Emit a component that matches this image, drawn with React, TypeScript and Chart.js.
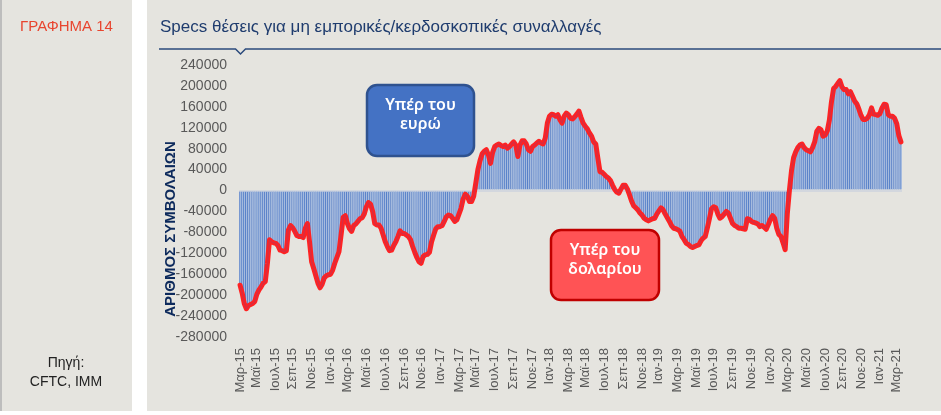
import React, { useEffect, useRef } from 'react';
import { Chart, registerables } from 'chart.js';

Chart.register(...registerables);

// Weekly net speculative EUR positions (thousands of contracts)
const START_DATE = '2015-03-10';
const NET_2015 = [-181, -196, -216, -226, -220, -218, -216, -212, -198, -190, -184, -177, -174, -139, -94, -98, -100, -101, -105, -114, -115, -117, -115, -75, -67, -71, -78, -86, -88, -88, -90, -72, -63, -98, -136, -149, -163, -177, -186, -179, -167, -163, -161];
const NET_2016 = [-160, -152, -139, -128, -117, -85, -51, -48, -63, -73, -78, -67, -64, -59, -54, -52, -45, -31, -23, -26, -40, -63, -66, -66, -72, -85, -98, -107, -115, -114, -105, -98, -88, -77, -82, -82, -85, -88, -94, -107, -118, -128, -136, -139, -126, -123, -122, -118, -98, -85, -73, -69];
const NET_2017 = [-69, -67, -59, -50, -47, -48, -53, -59, -56, -45, -34, -16, -7, -11, -21, -21, -11, 14, 40, 57, 70, 75, 78, 68, 52, 73, 84, 87, 89, 86, 84, 87, 81, 84, 89, 93, 87, 65, 87, 95, 95, 89, 78, 75, 84, 87, 91, 94, 91, 89, 100, 129];
const NET_2018 = [142, 146, 145, 142, 145, 135, 129, 142, 148, 145, 138, 137, 141, 146, 152, 140, 129, 123, 118, 110, 104, 93, 89, 62, 36, 35, 31, 27, 24, 19, 10, 2, -3, -5, 3, 10, 10, 3, -8, -20, -29, -33, -37, -43, -47, -53, -56, -58, -56, -54, -53, -45];
const NET_2019 = [-39, -33, -37, -45, -52, -59, -67, -72, -73, -75, -78, -88, -94, -101, -103, -107, -109, -107, -105, -104, -96, -91, -88, -72, -54, -35, -31, -33, -45, -53, -50, -45, -40, -43, -53, -63, -67, -69, -72, -72, -73, -74, -54, -55, -59, -61, -62, -64, -69, -67, -70, -74, -65];
const NET_2020 = [-55, -48, -53, -72, -84, -88, -100, -113, -45, 0, 38, 63, 74, 82, 87, 89, 82, 78, 76, 74, 82, 93, 113, 119, 116, 104, 106, 114, 135, 170, 195, 199, 205, 210, 198, 193, 193, 185, 189, 180, 171, 166, 156, 144, 136, 136, 138, 145, 158, 146, 145, 144];
const NET_2021 = [147, 158, 165, 164, 145, 142, 142, 138, 128, 105, 93];

const X_TICK_LABELS = [
  'Μαρ-15', 'Μαϊ-15', 'Ιουλ-15', 'Σεπ-15', 'Νοε-15',
  'Ιαν-16', 'Μαρ-16', 'Μαϊ-16', 'Ιουλ-16', 'Σεπ-16', 'Νοε-16',
  'Ιαν-17', 'Μαρ-17', 'Μαϊ-17', 'Ιουλ-17', 'Σεπ-17', 'Νοε-17',
  'Ιαν-18', 'Μαρ-18', 'Μαϊ-18', 'Ιουλ-18', 'Σεπ-18', 'Νοε-18',
  'Ιαν-19', 'Μαρ-19', 'Μαϊ-19', 'Ιουλ-19', 'Σεπ-19', 'Νοε-19',
  'Ιαν-20', 'Μαρ-20', 'Μαϊ-20', 'Ιουλ-20', 'Σεπ-20', 'Νοε-20',
  'Ιαν-21', 'Μαρ-21',
];
const Y_MIN = -280000;
const Y_MAX = 240000;
const Y_STEP = 40000;

const CHART_NUMBER = 'ΓΡΑΦΗΜΑ 14';
const TITLE = 'Specs θέσεις για μη εμπορικές/κερδοσκοπικές συναλλαγές';
const SOURCE_LINES = ['Πηγή:', 'CFTC, IMM'];
const Y_TITLE = 'ΑΡΙΘΜΟΣ ΣΥΜΒΟΛΑΙΩΝ';
const CALLOUT_EUR = ['Υπέρ του', 'ευρώ'];
const CALLOUT_USD = ['Υπέρ του', 'δολαρίου'];

const NET_THOUSANDS = [...NET_2015, ...NET_2016, ...NET_2017, ...NET_2018, ...NET_2019, ...NET_2020, ...NET_2021];
const NET_VALUES = NET_THOUSANDS.map((v) => v * 1000);
const WEEK_DATES: Date[] = NET_VALUES.map((_, i) => {
  const d = new Date(START_DATE + 'T00:00:00Z');
  d.setUTCDate(d.getUTCDate() + 7 * i);
  return d;
});
const WEEK_LABELS = WEEK_DATES.map((d) => d.toISOString().slice(0, 10));

function tickLabelFor(index: number): string {
  const d = WEEK_DATES[index];
  if (!d) return '';
  const prev = index > 0 ? WEEK_DATES[index - 1] : null;
  if (prev && prev.getUTCMonth() === d.getUTCMonth()) return '';
  const m = (d.getUTCFullYear() - 2015) * 12 + d.getUTCMonth() - 2;
  if (m < 0 || m % 2 !== 0) return '';
  return X_TICK_LABELS[m / 2] ?? '';
}

const FONT = "'Liberation Sans', Arial, sans-serif";
const BG = '#e5e4df';

const decorPlugin = {
  id: 'decor',
  beforeDraw(chart: any) {
    const ctx = chart.ctx as CanvasRenderingContext2D;
    ctx.save();
    ctx.fillStyle = '#ffffff';
    ctx.fillRect(0, 0, chart.width, chart.height);
    ctx.fillStyle = BG;
    ctx.fillRect(0, 0, 132, 411);
    ctx.fillRect(147, 0, chart.width - 147, 411);
    ctx.fillStyle = '#bdbdbd';
    ctx.fillRect(0, 0, 2, 411);

    ctx.textBaseline = 'middle';
    ctx.textAlign = 'left';
    ctx.fillStyle = '#e8452f';
    ctx.font = `15px ${FONT}`;
    ctx.fillText(CHART_NUMBER, 20, 27);

    ctx.fillStyle = '#1f3c6e';
    ctx.font = `17px ${FONT}`;
    ctx.fillText(TITLE, 160, 27);

    ctx.strokeStyle = '#2b4a7c';
    ctx.lineWidth = 1.5;
    ctx.beginPath();
    ctx.moveTo(159, 49);
    ctx.lineTo(235.5, 49);
    ctx.lineTo(240.5, 54);
    ctx.lineTo(245.5, 49);
    ctx.lineTo(chart.width, 49);
    ctx.stroke();

    ctx.textAlign = 'center';
    ctx.fillStyle = '#222222';
    ctx.font = `14px ${FONT}`;
    ctx.fillText(SOURCE_LINES[0], 66, 363);
    ctx.fillText(SOURCE_LINES[1], 66, 382);
    ctx.restore();
  },
  afterDraw(chart: any) {
    const ctx = chart.ctx as CanvasRenderingContext2D;
    ctx.save();
    // axis title
    ctx.translate(171, 229);
    ctx.rotate(-Math.PI / 2);
    ctx.textAlign = 'center';
    ctx.textBaseline = 'middle';
    ctx.fillStyle = '#0d2a5c';
    ctx.font = `bold 15px ${FONT}`;
    ctx.fillText(Y_TITLE, 0, 0);
    ctx.restore();

    const box = (x: number, y: number, w: number, h: number, fill: string, stroke: string, lines: string[], ty: number[]) => {
      ctx.save();
      ctx.beginPath();
      (ctx as any).roundRect(x, y, w, h, 10);
      ctx.fillStyle = fill;
      ctx.fill();
      ctx.lineWidth = 2.5;
      ctx.strokeStyle = stroke;
      ctx.stroke();
      ctx.fillStyle = '#ffffff';
      ctx.textAlign = 'center';
      ctx.textBaseline = 'middle';
      ctx.font = `600 16px 'Noto Sans', sans-serif`;
      lines.forEach((t, i) => ctx.fillText(t, x + w / 2, ty[i]));
      ctx.restore();
    };
    box(367, 85, 107, 71, '#4472c4', '#2f528f', CALLOUT_EUR, [105, 124]);
    box(551, 230, 108, 70, '#ff5355', '#c00000', CALLOUT_USD, [250, 269]);
  },
};

export default function App() {
  const ref = useRef<HTMLCanvasElement | null>(null);
  useEffect(() => {
    if (!ref.current) return;
    const chart = new Chart(ref.current, {
      type: 'bar',
      data: {
        labels: WEEK_LABELS,
        datasets: [
          {
            type: 'bar',
            data: NET_VALUES,
            backgroundColor: '#a6bbde',
            borderColor: '#4472c4',
            borderWidth: { left: 0.8, right: 0, top: 0, bottom: 0 },
            borderSkipped: false,
            barPercentage: 1,
            categoryPercentage: 1,
            order: 3,
          } as any,
          {
            type: 'line',
            data: NET_VALUES,
            borderColor: '#ff2222',
            borderWidth: 5,
            pointRadius: 0,
            tension: 0,
            borderJoinStyle: 'round',
            borderCapStyle: 'round',
            order: 2,
          } as any,
          {
            type: 'line',
            data: NET_VALUES,
            borderColor: 'rgba(160,60,110,0.4)',
            borderWidth: 1.5,
            pointRadius: 0,
            tension: 0,
            borderJoinStyle: 'round',
            order: 1,
          } as any,
        ],
      },
      options: {
        responsive: false,
        animation: false,
        devicePixelRatio: 1,
        layout: { padding: { left: 150, right: 39, top: 65, bottom: 0 } },
        plugins: { legend: { display: false }, tooltip: { enabled: false } },
        scales: {
          x: {
            type: 'category',
            offset: true,
            grid: { display: false, drawTicks: false },
            border: { display: false },
            ticks: {
              autoSkip: false,
              minRotation: 90,
              maxRotation: 90,
              padding: 11,
              color: '#595959',
              font: { family: FONT, size: 13 },
              callback: (_v: any, index: number) => tickLabelFor(index),
            },
            afterFit: (scale: any) => {
              scale.height = 78;
            },
          },
          y: {
            min: Y_MIN,
            max: Y_MAX,
            grid: {
              drawTicks: false,
              color: (c: any) => (c.tick && c.tick.value === 0 ? '#d3d7de' : 'rgba(0,0,0,0)'),
              lineWidth: 2,
            },
            border: { display: false },
            ticks: {
              stepSize: Y_STEP,
              padding: 12,
              color: '#595959',
              font: { family: FONT, size: 14 },
              callback: (v: any) => String(v),
            },
            afterFit: (scale: any) => {
              scale.width = 89;
            },
          },
        },
      },
      plugins: [decorPlugin],
    });
    return () => chart.destroy();
  }, []);
  return (
    <div style={{ position: 'absolute', left: 0, top: 0, width: 941, height: 415 }}>
      <canvas ref={ref} width={941} height={415} style={{ display: 'block', width: 941, height: 415 }} />
    </div>
  );
}
